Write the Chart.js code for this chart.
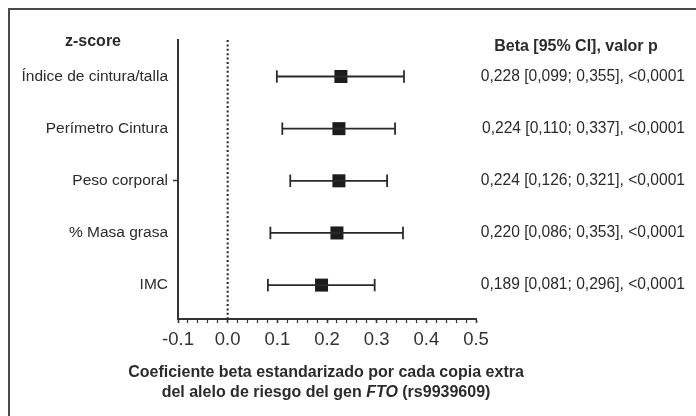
<!DOCTYPE html>
<html>
<head>
<meta charset="utf-8">
<script src="https://cdn.jsdelivr.net/npm/chart.js@4/dist/chart.umd.min.js"></script>
<style>
  html, body { margin: 0; padding: 0; background: #fff; }
  #wrap { width: 696px; height: 416px; position: relative; }
</style>
</head>
<body>
<div id="wrap"><canvas id="c" width="696" height="416"></canvas></div>
<script>
// ---- data ----
const categories = ['Índice de cintura/talla', 'Perímetro Cintura', 'Peso corporal', '% Masa grasa', 'IMC'];
const beta  = [0.228, 0.224, 0.224, 0.220, 0.189];
const ciLow = [0.099, 0.110, 0.126, 0.086, 0.081];
const ciHigh= [0.355, 0.337, 0.321, 0.353, 0.296];
const pText = ['<0,0001', '<0,0001', '<0,0001', '<0,0001', '<0,0001'];
const xTickLabels = ['-0.1', '0.0', '0.1', '0.2', '0.3', '0.4', '0.5'];
const leftHeader = 'z-score';
const rightHeader = 'Beta [95% CI], valor p';
const xTitleLine1 = 'Coeficiente beta estandarizado por cada copia extra';
const xTitleLine2 = ['del alelo de riesgo del gen ', 'FTO', ' (rs9939609)'];

const fmt = v => v.toFixed(3).replace('.', ',');
const rightLabels = beta.map((b, i) => `${fmt(b)} [${fmt(ciLow[i])}; ${fmt(ciHigh[i])}], ${pText[i]}`);

const Y_MIN = 0.3, Y_MAX = 5.65;
const FONT = "'Liberation Sans', Arial, Helvetica, sans-serif";
const INK = '#2b2b2b';

const datasets = [];
// reference dotted line at 0
datasets.push({
  data: [{x: 0, y: Y_MIN}, {x: 0, y: Y_MAX}],
  showLine: true, borderColor: '#222', borderWidth: 2, borderDash: [2, 2.4],
  pointRadius: 0, borderCapStyle: 'butt'
});
// confidence intervals
categories.forEach((c, i) => {
  datasets.push({
    data: [{x: ciLow[i], y: i + 1}, {x: ciHigh[i], y: i + 1}],
    showLine: true, borderColor: '#2a2a2a', borderWidth: 1.8,
    pointStyle: 'line', rotation: 90, pointRadius: 6.2,
    pointBorderColor: '#2a2a2a', pointBorderWidth: 1.8
  });
});
// point estimates
datasets.push({
  data: beta.map((b, i) => ({x: b, y: i + 1})),
  showLine: false, pointStyle: 'rect', pointRadius: 9.2,
  backgroundColor: '#1c1c1c', borderColor: '#1c1c1c', borderWidth: 0
});

const decor = {
  id: 'decor',
  beforeDraw(chart) {
    const ctx = chart.ctx;
    ctx.save();
    ctx.strokeStyle = '#4a4a4a';
    ctx.lineWidth = 2;
    ctx.beginPath();
    ctx.moveTo(9, 416); ctx.lineTo(9, 9); ctx.lineTo(696, 9);
    ctx.stroke();
    ctx.restore();
  },
  afterDraw(chart) {
    const ctx = chart.ctx;
    ctx.save();
    ctx.fillStyle = INK;
    ctx.textBaseline = 'middle';
    ctx.font = `bold 16px ${FONT}`;
    ctx.textAlign = 'center';
    ctx.fillText(leftHeader, 93, 42);
    ctx.fillText(rightHeader, 576, 47);
    ctx.fillText(xTitleLine1, 326, 373);
    // line 2 with italic gene name
    const fonts = [`bold 16px ${FONT}`, `italic bold 16px ${FONT}`, `bold 16px ${FONT}`];
    let widths = xTitleLine2.map((t, k) => { ctx.font = fonts[k]; return ctx.measureText(t).width; });
    let total = widths.reduce((a, b) => a + b, 0);
    let x = 326 - total / 2;
    ctx.textAlign = 'left';
    xTitleLine2.forEach((t, k) => { ctx.font = fonts[k]; ctx.fillText(t, x, 393); x += widths[k]; });
    ctx.restore();
  }
};

const yTicksBuild = scale => { scale.ticks = categories.map((c, i) => ({value: i + 1})); };

new Chart(document.getElementById('c'), {
  type: 'scatter',
  data: { datasets },
  options: {
    responsive: false,
    animation: false,
    events: [],
    layout: { padding: { top: 40, left: 0, right: 11, bottom: 0 } },
    plugins: { legend: { display: false }, tooltip: { enabled: false }, title: { display: false } },
    scales: {
      x: {
        type: 'linear', position: 'bottom', min: -0.1, max: 0.5,
        afterFit: s => { s.height = 97; },
        border: { display: true, color: '#333', width: 2 },
        grid: { display: true, drawOnChartArea: false, drawTicks: true, tickLength: 4,
                tickColor: '#333', tickWidth: c => (Math.abs(c.tick.value * 10 - Math.round(c.tick.value * 10)) < 1e-6 ? 1.6 : 1.2) },
        ticks: {
          stepSize: 0.02, autoSkip: false, maxRotation: 0, padding: 6,
          color: '#333', font: { family: FONT, size: 18.5 },
          callback: v => {
            const k = v * 10;
            if (Math.abs(k - Math.round(k)) > 1e-6) return '';
            return xTickLabels[Math.round(k) + 1];
          }
        }
      },
      y: {
        type: 'linear', position: 'left', reverse: true, min: Y_MIN, max: Y_MAX,
        afterBuildTicks: yTicksBuild,
        afterFit: s => { s.width = 178; },
        border: { display: true, color: '#333', width: 2 },
        grid: { display: true, drawOnChartArea: false, drawTicks: true, tickLength: 5,
                tickColor: c => (c.index === 2 ? '#333' : 'rgba(0,0,0,0)'), tickWidth: 1.5 },
        ticks: {
          padding: 5, color: INK, font: { family: FONT, size: 15.5 },
          callback: v => categories[Math.round(v) - 1]
        }
      },
      y2: {
        type: 'linear', position: 'right', reverse: true, min: Y_MIN, max: Y_MAX,
        afterBuildTicks: yTicksBuild,
        afterFit: s => { s.width = 209; },
        border: { display: false },
        grid: { display: false },
        ticks: {
          crossAlign: 'far', padding: 0, color: INK, font: { family: FONT, size: 15.6 },
          callback: v => rightLabels[Math.round(v) - 1]
        }
      }
    }
  },
  plugins: [decor]
});
</script>
</body>
</html>
